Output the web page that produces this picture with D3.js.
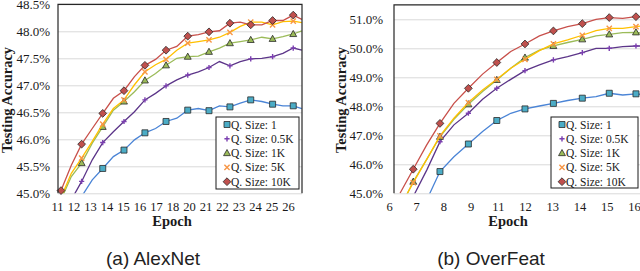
<!DOCTYPE html>
<html>
<head>
<meta charset="utf-8">
<script src="https://cdn.jsdelivr.net/npm/d3@7"></script>
<style>
  body { margin: 0; background: #fff; }
  svg { display: block; }
  .tick text { font-family: "Liberation Serif", "Times New Roman", serif; fill: #1a1a1a; }
</style>
</head>
<body>
<script>
// ---- Data ----

// Series labels and colours (same for both panels)
const seriesNames = ["Q. Size: 1", "Q. Size: 0.5K", "Q. Size: 1K", "Q. Size: 5K", "Q. Size: 10K"];
const lineColors = ["#4a84d6", "#5c3589", "#9bbb59", "#ffc000", "#c8504b"];
const markerColors = ["#4bacc6", "#7b3fb0", "#9bbb59", "#f79646", "#c0504d"];
const markerTypes = ["square", "plus", "triangle", "cross", "diamond"];

// (a) AlexNet
const alexEpochs = [11.26, 11.93, 12.6, 13.29, 13.97, 14.66, 15.35, 16.03, 16.71, 17.4, 18.08, 18.78,
                    19.49, 20.18, 20.87, 21.55, 22.23, 22.9, 23.58, 24.3, 25.0, 25.67, 26.34, 26.9];
const alexMarkerEpochs = [11.26, 12.6, 13.97, 15.35, 16.71, 18.08, 19.49, 20.87, 22.23, 23.58, 25.0, 26.34];
const alexQ1   = [44.3, 44.6, 44.94, 45.25, 45.46, 45.68, 45.80, 45.99, 46.12, 46.20, 46.33, 46.39,
                  46.54, 46.57, 46.53, 46.62, 46.60, 46.67, 46.73, 46.70, 46.65, 46.62, 46.62, 46.57];
const alexQ05K = [44.5, 44.88, 45.22, 45.62, 45.94, 46.14, 46.33, 46.51, 46.73, 46.85, 46.99, 47.10,
                  47.19, 47.25, 47.33, 47.44, 47.36, 47.44, 47.49, 47.50, 47.53, 47.59, 47.69, 47.65];
const alexQ1K  = [44.88, 45.31, 45.56, 45.93, 46.23, 46.54, 46.70, 46.88, 47.09, 47.22, 47.37, 47.50,
                  47.53, 47.54, 47.62, 47.69, 47.78, 47.81, 47.84, 47.89, 47.86, 47.90, 47.95, 48.01];
const alexQ5K  = [44.92, 45.37, 45.65, 45.96, 46.28, 46.57, 46.73, 47.01, 47.25, 47.38, 47.48, 47.65,
                  47.78, 47.81, 47.84, 47.89, 47.98, 48.09, 48.17, 48.17, 48.12, 48.18, 48.19, 48.16];
const alexQ10K = [45.05, 45.52, 45.91, 46.20, 46.48, 46.76, 46.90, 47.16, 47.37, 47.48, 47.65, 47.72,
                  47.91, 47.94, 47.99, 48.01, 48.15, 48.17, 48.12, 48.12, 48.20, 48.20, 48.30, 48.22];
const alexXTickLabels = ["11", "12", "13", "14", "15", "16", "17", "18", "20", "21", "22", "23", "24", "25", "26"];
const alexYTicks = [45.0, 45.5, 46.0, 46.5, 47.0, 47.5, 48.0, 48.5];

// (b) OverFeat
const overEpochs = [6.45, 6.99, 7.54, 8.08, 8.65, 9.24, 9.82, 10.40, 10.97, 11.55, 12.14, 12.71,
                    13.29, 13.89, 14.45, 14.99, 15.54, 16.08, 16.3];
const overMarkerEpochs = [6.99, 8.08, 9.24, 10.40, 11.55, 12.71, 13.89, 14.99, 16.08];
const overQ1   = [43.0, 43.85, 44.77, 45.75, 46.26, 46.70, 47.13, 47.51, 47.76, 47.91, 48.01, 48.10,
                  48.20, 48.28, 48.33, 48.45, 48.39, 48.43, 48.41];
const overQ05K = [43.85, 44.89, 45.80, 46.78, 47.36, 47.76, 48.24, 48.62, 48.93, 49.23, 49.43, 49.60,
                  49.71, 49.85, 50.00, 50.00, 50.06, 50.08, 50.08];
const overQ1K  = [44.48, 45.40, 46.17, 46.95, 47.55, 48.07, 48.51, 48.91, 49.31, 49.68, 49.94, 50.08,
                  50.20, 50.31, 50.43, 50.48, 50.54, 50.55, 50.52];
const overQ5K  = [44.54, 45.37, 46.17, 46.98, 47.59, 48.13, 48.56, 48.93, 49.31, 49.62, 49.92, 50.15,
                  50.29, 50.45, 50.61, 50.69, 50.69, 50.75, 50.77];
const overQ10K = [45.0, 45.83, 46.67, 47.41, 48.10, 48.62, 49.11, 49.51, 49.89, 50.15, 50.43, 50.60,
                  50.75, 50.85, 51.00, 51.06, 51.03, 51.09, 51.08];
const overXTickLabels = ["6", "7", "8", "9", "11", "12", "13", "14", "15", "16"];
const overYTicks = [45.0, 46.0, 47.0, 48.0, 49.0, 50.0, 51.0];

// ---- Layout ----
const width = 640;
const height = 271;
const serif = '"Liberation Serif", "Times New Roman", serif';

const svg = d3.select('body')
  .append('svg')
  .attr('width', width)
  .attr('height', height);

const fmtPct = d3.format('.1f');

// Marker shapes
function markerPath(type, s) {
  if (type === 'square') return `M${-s},${-s}H${s}V${s}H${-s}Z`;
  if (type === 'diamond') return `M0,${-s * 1.3}L${s * 1.3},0L0,${s * 1.3}L${-s * 1.3},0Z`;
  if (type === 'triangle') return `M0,${-s * 1.2}L${s * 1.15},${s * 0.85}L${-s * 1.15},${s * 0.85}Z`;
  if (type === 'plus') return `M${-s},0H${s}M0,${-s}V${s}`;
  return `M${-s},${-s}L${s},${s}M${-s},${s}L${s},${-s}`;   // cross
}

function drawMarker(g, type, color, x, y) {
  const filled = (type === 'square' || type === 'diamond' || type === 'triangle');
  g.append('path')
    .attr('transform', `translate(${x},${y})`)
    .attr('d', markerPath(type, filled ? 3 : 2.6))
    .attr('fill', filled ? color : 'none')
    .attr('stroke', filled ? '#2a2a2a' : color)
    .attr('stroke-width', filled ? 0.8 : 1.4);
}

function drawPanel(p) {
  const g = svg.append('g').attr('class', 'panel ' + p.id);

  const xScale = d3.scaleLinear().domain(p.xDomain).range(p.xRange);
  const yScale = d3.scaleLinear().domain(p.yDomain).range([p.bottom, p.top]);

  // gridlines
  g.append('g')
    .attr('transform', `translate(${p.left},0)`)
    .call(d3.axisLeft(yScale).tickValues(p.yTicks).tickSize(-(p.right - p.left)).tickFormat(''))
    .call(a => a.select('.domain').remove())
    .call(a => a.selectAll('line').attr('stroke', '#d9d9d9').attr('stroke-width', 1));

  // y tick labels
  g.append('g')
    .attr('transform', `translate(${p.left},0)`)
    .attr('font-family', serif)
    .call(d3.axisLeft(yScale).tickValues(p.yTicks).tickSize(0).tickPadding(p.yPad)
      .tickFormat(d => fmtPct(d) + '%'))
    .attr('font-family', serif)
    .call(a => a.select('.domain').remove())
    .call(a => a.selectAll('text').style('font-family', serif).style('font-size', '13px'));

  // x tick labels: evenly spaced along the epoch axis
  const n = p.xTickLabels.length;
  const xTickVals = d3.range(n).map(i => p.xDomain[0] + i * (p.xDomain[1] - p.xDomain[0]) / (n - 1));
  g.append('g')
    .attr('transform', `translate(0,${p.bottom})`)
    .call(d3.axisBottom(xScale).tickValues(xTickVals).tickSize(0).tickPadding(9)
      .tickFormat((d, i) => p.xTickLabels[i]))
    .attr('font-family', serif)
    .call(a => a.select('.domain').remove())
    .call(a => a.selectAll('text').style('font-family', serif).style('font-size', '12.5px'));

  // clip for the lines
  svg.append('clipPath').attr('id', 'clip-' + p.id)
    .append('rect')
    .attr('x', p.left).attr('y', p.top)
    .attr('width', p.right - p.left).attr('height', p.bottom - p.top);

  const line = d3.line()
    .x(d => xScale(d[0]))
    .y(d => yScale(d[1]));

  p.series.forEach((vals, k) => {
    const pts = p.epochs.map((e, i) => [e, vals[i]]);
    g.append('path')
      .attr('clip-path', `url(#clip-${p.id})`)
      .attr('fill', 'none')
      .attr('stroke', lineColors[k])
      .attr('stroke-width', 1.3)
      .attr('d', line(pts));

    const mg = g.append('g').attr('class', 'markers');
    pts.filter(d => p.markerEpochs.includes(d[0]) && d[1] >= p.yDomain[0])
      .forEach(d => drawMarker(mg, markerTypes[k], markerColors[k], xScale(d[0]), yScale(d[1])));
  });

  // plot frame (left, top, right)
  g.append('path')
    .attr('d', `M${p.left},${p.bottom}V${p.top}H${p.right}V${p.bottom}`)
    .attr('fill', 'none')
    .attr('stroke', '#262626')
    .attr('stroke-width', 1.2);

  // legend
  const lg = g.append('g').attr('class', 'legend');
  lg.append('rect')
    .attr('x', p.legend.x).attr('y', p.legend.y)
    .attr('width', p.legend.w).attr('height', p.legend.h)
    .attr('fill', '#fff')
    .attr('stroke', '#1a1a1a')
    .attr('stroke-width', 1);
  seriesNames.forEach((name, k) => {
    const cy = p.legend.y + 7.5 + k * 14.3;
    drawMarker(lg, markerTypes[k], markerColors[k], p.legend.x + 11, cy);
    lg.append('text')
      .attr('x', p.legend.x + 15)
      .attr('y', cy)
      .attr('dy', '0.35em')
      .style('font-family', serif)
      .style('font-size', '11.5px')
      .attr('fill', '#1a1a1a')
      .text(name);
  });

  // axis titles
  g.append('text')
    .attr('x', p.xTitleX).attr('y', 226)
    .attr('text-anchor', 'middle')
    .style('font-family', serif).style('font-weight', 'bold').style('font-size', '14.5px')
    .attr('fill', '#1a1a1a')
    .text('Epoch');

  g.append('text')
    .attr('transform', `translate(${p.yTitleX},${p.yTitleY}) rotate(-90)`)
    .attr('text-anchor', 'middle')
    .style('font-family', serif).style('font-weight', 'bold').style('font-size', '14.5px')
    .attr('fill', '#1a1a1a')
    .text('Testing Accuracy');

  // caption
  g.append('text')
    .attr('x', p.captionX).attr('y', 265)
    .attr('text-anchor', 'middle')
    .style('font-family', '"Liberation Sans", Arial, sans-serif')
    .style('font-size', '19px')
    .attr('fill', '#222')
    .text(p.caption);
}

drawPanel({
  id: 'alexnet',
  epochs: alexEpochs,
  markerEpochs: alexMarkerEpochs,
  series: [alexQ1, alexQ05K, alexQ1K, alexQ5K, alexQ10K],
  xTickLabels: alexXTickLabels,
  yTicks: alexYTicks,
  xDomain: [11, 26], xRange: [57, 288],
  yDomain: [45, 48.5],
  left: 58, right: 302, top: 4.3, bottom: 193.3,
  yPad: 8,
  legend: { x: 216, y: 117, w: 83, h: 72 },
  xTitleX: 172, yTitleX: 12, yTitleY: 100,
  captionX: 153, caption: '(a) AlexNet'
});

drawPanel({
  id: 'overfeat',
  epochs: overEpochs,
  markerEpochs: overMarkerEpochs,
  series: [overQ1, overQ05K, overQ1K, overQ5K, overQ10K],
  xTickLabels: overXTickLabels,
  yTicks: overYTicks,
  xDomain: [6, 16], xRange: [389, 634],
  yDomain: [45, 51.5],
  left: 394, right: 642, top: 4.8, bottom: 193.3,
  yPad: 11,
  legend: { x: 551, y: 117, w: 87, h: 71 },
  xTitleX: 508, yTitleX: 346, yTitleY: 100,
  captionX: 491, caption: '(b) OverFeat'
});
</script>
</body>
</html>
